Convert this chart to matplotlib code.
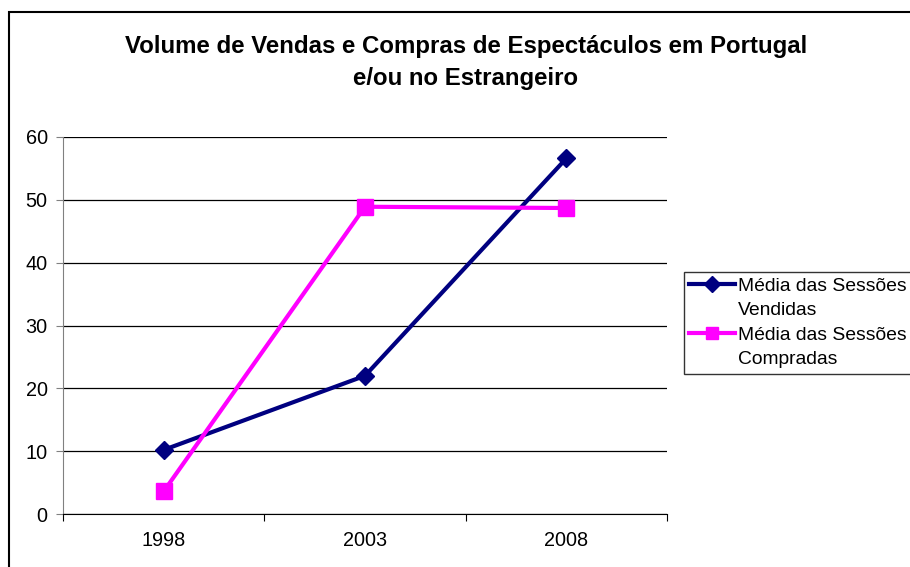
import matplotlib
matplotlib.use('Agg')
from matplotlib import pyplot as plt
from matplotlib.lines import Line2D
from matplotlib.patches import Rectangle

plt.rcParams['font.family'] = ['Liberation Sans', 'DejaVu Sans']

# data
years = ['1998', '2003', '2008']
vendidas = [10.2, 22.0, 56.6]
compradas = [3.6, 48.9, 48.7]
y_ticks = [0, 10, 20, 30, 40, 50, 60]

title = 'Volume de Vendas e Compras de Espectáculos em Portugal\ne/ou no Estrangeiro'
label_vend = ['Média das Sessões', 'Vendidas']
label_comp = ['Média das Sessões', 'Compradas']

navy = '#000080'
pink = '#FF00FF'
fs = 14.3

fig = plt.figure(figsize=(9.1, 5.67), dpi=100)
ax = fig.add_axes([63 / 910, 1 - 514 / 567, 604 / 910, 377 / 567])

x = list(range(len(years)))
ax.plot(x, vendidas, color=navy, lw=3, marker='D', ms=9, zorder=3)
ax.plot(x, compradas, color=pink, lw=3, marker='s', ms=11, zorder=3)

ax.set_xlim(-0.5, len(years) - 0.5)
ax.set_ylim(0, 60)
ax.set_yticks(y_ticks)
ax.yaxis.grid(True, color='black', lw=0.9)
ax.set_axisbelow(True)

# category boundaries get the tick marks, the labels sit in between
ax.set_xticks([i - 0.5 for i in range(len(years) + 1)])
ax.set_xticklabels([])
ax.set_xticks(x, minor=True)
ax.set_xticklabels(years, minor=True)
ax.tick_params(axis='x', which='major', length=5, color='black', direction='out')
ax.tick_params(axis='x', which='minor', length=0, pad=12, labelsize=fs)
ax.tick_params(axis='y', length=5, color='#808080', pad=6, labelsize=fs)

for s in ['top', 'right']:
    ax.spines[s].set_visible(False)
ax.spines['left'].set_color('#808080')
ax.spines['bottom'].set_color('black')

fig.text(466 / 910, 1 - 62 / 567, title, ha='center', va='center',
         fontsize=17.3, fontweight='bold', linespacing=1.5)

# legend: handle next to the first line of each label
blank = Line2D([], [], color='none')
handles = [
    Line2D([], [], color=navy, lw=3, marker='D', ms=8),
    blank,
    Line2D([], [], color=pink, lw=3, marker='s', ms=9),
    blank,
]
labels = [label_vend[0], label_vend[1], label_comp[0], label_comp[1]]
leg = fig.legend(handles, labels, loc='upper left',
                 bbox_to_anchor=(684 / 910, 1 - 272 / 567),
                 fontsize=13.9, frameon=True, fancybox=False,
                 handlelength=2.35, handletextpad=0.15, labelspacing=0.36,
                 borderpad=0.28, borderaxespad=0)
leg.get_frame().set_edgecolor('black')
leg.get_frame().set_linewidth(1)

# outer chart border (cut off on right and bottom)
fig.patches.append(Rectangle((9 / 910, -0.1), 1.2, 1.1 - 12 / 567,
                             transform=fig.transFigure, fill=False,
                             ec='black', lw=1.5))

plt.savefig('out.png', dpi=100)
